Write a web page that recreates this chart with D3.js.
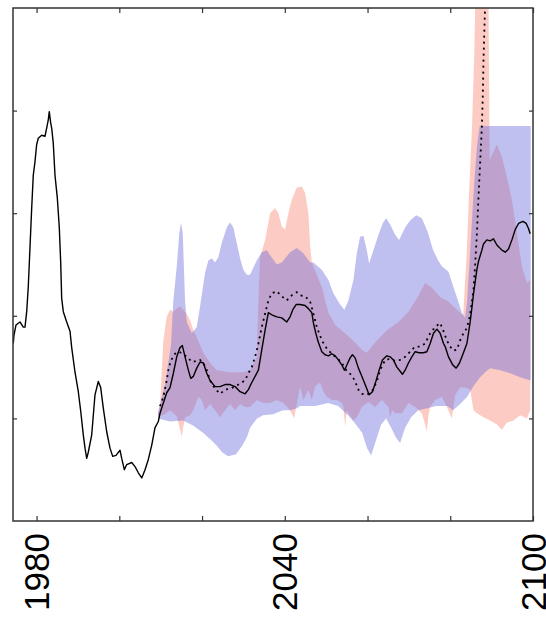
<!DOCTYPE html>
<html>
<head>
<meta charset="utf-8">
<script src="https://cdn.jsdelivr.net/npm/d3@7"></script>
<style>
  body { margin: 0; background: #fff; }
  svg { display: block; }
</style>
</head>
<body>
<div id="chart"></div>
<script>
// x ticks / labels
const xTicks = [1980, 2000, 2020, 2040, 2060, 2080, 2100];
const xLabels = [1980, 2040, 2100];
const yTicks = [1, 2, 3, 4];

// solid black line: observed record + ensemble mean, [year, value]
const meanLine = [
  [1974.37,1.73],[1974.53,1.81],[1975.02,1.91],[1975.99,1.94],[1976.78,1.89],[1977.20,1.89],[1977.61,2.04],
  [1977.99,2.28],[1978.40,2.66],[1978.82,3.05],[1979.20,3.37],[1979.61,3.50],[1980.02,3.67],[1980.41,3.73],
  [1981.23,3.76],[1982.03,3.75],[1982.44,3.83],[1982.83,3.91],[1983.07,3.99],[1983.41,3.88],[1983.65,3.83],
  [1984.04,3.68],[1984.45,3.37],[1985.01,3.15],[1985.49,2.86],[1985.83,2.52],[1986.07,2.17],[1986.46,2.04],
  [1987.28,1.94],[1988.08,1.85],[1988.49,1.69],[1989.29,1.45],[1990.09,1.26],[1990.67,1.07],[1991.29,0.84],
  [1991.71,0.71],[1992.12,0.61],[1992.50,0.67],[1993.33,0.84],[1994.12,1.23],[1994.92,1.36],[1995.50,1.30],
  [1996.13,1.10],[1996.95,0.87],[1997.75,0.71],[1998.40,0.63],[1999.20,0.64],[2000.17,0.69],[2000.58,0.61],
  [2001.21,0.50],[2001.79,0.55],[2003.00,0.57],[2003.80,0.53],[2004.60,0.47],[2005.42,0.42],[2006.22,0.50],
  [2007.01,0.60],[2007.84,0.74],[2008.63,0.91],[2009.43,0.97],[2009.84,1.05],[2010.64,1.15],[2011.46,1.25],
  [2012.26,1.30],[2013.06,1.44],[2013.88,1.60],[2014.68,1.69],[2015.24,1.71],[2015.89,1.60],[2016.69,1.47],
  [2017.27,1.39],[2017.90,1.41],[2018.72,1.49],[2019.52,1.55],[2020.32,1.54],[2021.14,1.44],[2021.94,1.37],
  [2023.14,1.31],[2024.35,1.31],[2025.56,1.33],[2026.77,1.33],[2027.98,1.31],[2029.19,1.26],[2030.40,1.24],
  [2031.20,1.28],[2032.02,1.35],[2032.82,1.41],[2033.62,1.47],[2034.44,1.67],[2035.24,1.86],[2036.03,2.03],
  [2036.86,2.01],[2038.07,1.99],[2039.28,1.98],[2040.48,1.94],[2041.28,1.99],[2041.94,2.06],[2042.73,2.11],
  [2043.70,2.11],[2044.91,2.10],[2045.71,2.07],[2046.53,2.03],[2046.92,1.93],[2047.50,1.83],[2048.13,1.74],
  [2048.95,1.65],[2049.75,1.62],[2050.54,1.61],[2051.37,1.63],[2052.17,1.61],[2052.96,1.57],[2053.79,1.52],
  [2054.41,1.47],[2055.00,1.52],[2055.79,1.59],[2056.35,1.62],[2057.00,1.59],[2057.80,1.49],[2058.62,1.41],
  [2059.42,1.33],[2060.39,1.23],[2061.19,1.26],[2062.01,1.36],[2062.81,1.47],[2063.60,1.57],[2064.67,1.61],
  [2065.47,1.60],[2066.26,1.57],[2067.09,1.50],[2067.88,1.46],[2068.44,1.43],[2069.09,1.47],[2069.89,1.54],
  [2070.71,1.60],[2071.51,1.65],[2072.48,1.64],[2073.52,1.64],[2074.34,1.65],[2075.14,1.73],[2075.94,1.83],
  [2076.76,1.87],[2077.56,1.83],[2078.36,1.73],[2078.77,1.70],[2079.57,1.60],[2080.63,1.52],[2081.43,1.49],
  [2082.23,1.54],[2083.19,1.64],[2084.02,1.73],[2084.40,1.83],[2084.81,1.94],[2085.23,2.08],[2085.61,2.21],
  [2086.02,2.33],[2086.43,2.45],[2086.82,2.53],[2087.64,2.64],[2088.03,2.70],[2088.85,2.74],[2089.65,2.73],
  [2090.45,2.75],[2091.27,2.69],[2092.48,2.64],[2093.28,2.62],[2094.08,2.65],[2094.90,2.74],[2095.70,2.84],
  [2096.50,2.90],[2097.56,2.92],[2098.36,2.90],[2098.91,2.85],[2099.32,2.80]
];

// dotted line
const altLine = [
  [2009.84,1.12],[2010.64,1.21],[2011.46,1.37],[2011.85,1.47],[2012.43,1.56],[2013.47,1.63],[2014.51,1.65],
  [2015.48,1.62],[2016.45,1.60],[2017.51,1.55],[2018.72,1.56],[2019.52,1.57],[2020.32,1.54],[2021.14,1.47],
  [2021.94,1.37],[2023.14,1.29],[2024.35,1.24],[2025.56,1.28],[2026.77,1.29],[2027.98,1.31],[2029.19,1.34],
  [2030.40,1.37],[2031.20,1.44],[2032.02,1.50],[2032.82,1.60],[2033.62,1.73],[2034.44,1.89],[2035.24,2.02],
  [2036.03,2.15],[2036.86,2.22],[2038.07,2.24],[2039.28,2.19],[2040.48,2.15],[2041.69,2.20],[2042.90,2.23],
  [2043.70,2.20],[2044.91,2.19],[2046.12,2.14],[2046.92,2.02],[2047.74,1.89],[2048.95,1.76],[2050.16,1.68],
  [2051.37,1.63],[2052.58,1.59],[2053.79,1.54],[2055.00,1.46],[2056.20,1.42],[2057.00,1.36],[2057.80,1.28],
  [2058.62,1.24],[2059.83,1.23],[2061.04,1.26],[2062.25,1.36],[2063.05,1.47],[2064.26,1.57],[2065.47,1.58],
  [2066.68,1.56],[2067.88,1.57],[2069.09,1.60],[2070.30,1.65],[2071.51,1.70],[2072.72,1.70],[2073.93,1.73],
  [2075.14,1.83],[2076.35,1.89],[2077.56,1.93],[2078.36,1.85],[2079.18,1.76],[2079.98,1.70],[2080.77,1.66],
  [2081.60,1.67],[2082.39,1.76],[2083.19,1.83],[2084.02,1.88],[2084.81,2.01],[2085.61,2.25],[2086.02,2.50],
  [2086.43,2.79],[2086.82,3.15],[2087.23,3.50],[2087.64,3.84],[2087.88,4.17],[2088.03,4.49],[2088.27,4.82],
  [2088.44,5.03],[2088.59,5.27]
];

// salmon range
const pinkUpper = [
  [2009.36,1.04],[2009.84,1.13],[2010.64,1.76],[2011.46,1.99],[2012.26,2.06],[2013.06,2.04],[2013.88,2.07],
  [2014.68,2.09],[2016.30,2.02],[2017.10,1.96],[2017.90,1.86],[2018.72,1.79],[2020.32,1.64],[2021.94,1.54],
  [2023.56,1.47],[2026.77,1.45],[2029.99,1.45],[2031.61,1.47],[2033.23,1.60],[2033.62,2.15],[2034.03,2.57],
  [2035.24,2.74],[2036.45,3.00],[2037.65,3.05],[2038.45,3.00],[2039.28,2.87],[2040.07,2.84],[2040.87,3.00],
  [2041.69,3.13],[2042.90,3.25],[2044.11,3.26],[2044.91,3.20],[2045.71,3.00],[2046.12,2.69],[2046.53,2.52],
  [2048.95,2.28],[2050.54,2.03],[2052.17,1.91],[2054.58,1.83],[2057.00,1.74],[2058.62,1.67],[2059.83,1.64],
  [2062.25,1.76],[2064.67,1.86],[2067.47,1.94],[2069.89,2.04],[2072.24,2.19],[2073.93,2.32],[2075.62,2.27],
  [2077.56,2.18],[2079.57,2.14],[2080.77,2.09],[2081.60,2.06],[2082.39,2.03],[2083.12,2.00],[2084.02,2.64],
  [2084.57,3.23],[2085.23,3.81],[2085.78,4.52],[2086.26,5.47],[2089.17,5.47],[2089.53,3.52],[2091.27,3.67],
  [2092.48,3.55],[2093.69,3.35],[2094.90,3.13],[2096.11,2.81],[2097.32,2.48],[2098.53,2.32],[2099.32,2.35]
];
const pinkLower = [
  [2009.36,1.02],[2011.05,1.04],[2012.26,1.08],[2013.88,1.02],[2014.27,0.96],[2015.09,0.82],[2015.48,0.92],
  [2015.89,1.01],[2017.10,1.03],[2017.90,1.08],[2019.11,1.21],[2019.93,1.18],[2020.73,1.08],[2021.94,1.14],
  [2023.14,1.08],[2024.35,1.01],[2025.56,1.08],[2026.77,1.14],[2027.98,1.08],[2029.19,1.14],[2030.40,1.11],
  [2031.61,1.11],[2033.23,1.18],[2034.83,1.15],[2036.45,1.15],[2038.07,1.18],[2039.66,1.15],[2041.28,1.08],
  [2042.25,1.00],[2042.98,1.16],[2043.70,1.31],[2044.50,1.18],[2045.71,1.28],[2046.53,1.18],[2047.33,1.31],
  [2048.54,1.35],[2049.34,1.26],[2050.16,1.21],[2051.37,1.18],[2052.58,1.18],[2053.79,1.15],[2054.17,1.11],
  [2054.58,0.92],[2055.00,1.08],[2055.38,1.05],[2056.59,0.98],[2057.41,1.01],[2058.62,1.11],[2060.22,1.16],
  [2061.84,1.11],[2063.46,1.18],[2065.06,1.11],[2065.47,1.01],[2065.95,1.08],[2066.68,1.05],[2068.30,1.05],
  [2069.89,1.15],[2071.51,1.11],[2073.13,1.05],[2073.93,0.94],[2074.34,0.87],[2074.73,1.03],[2075.14,1.11],
  [2076.35,1.18],[2077.97,1.21],[2079.18,1.11],[2080.39,1.00],[2081.19,1.23],[2082.39,1.30],[2083.60,1.30],
  [2084.81,1.28],[2085.61,1.08],[2086.43,1.05],[2088.03,1.01],[2089.65,0.98],[2091.27,0.94],[2092.48,0.89],
  [2093.69,0.96],[2095.29,0.98],[2096.91,1.03],[2098.53,1.00],[2099.32,1.08]
];

// blue range
const blueUpper = [
  [2009.36,1.06],[2011.05,1.33],[2012.50,1.72],[2013.06,2.15],[2013.88,2.48],[2014.51,2.81],[2014.92,2.91],
  [2015.33,2.81],[2015.89,2.15],[2016.30,1.94],[2017.51,1.83],[2018.72,1.89],[2019.52,2.09],[2020.73,2.42],
  [2021.52,2.54],[2022.35,2.56],[2023.14,2.52],[2023.94,2.57],[2024.76,2.71],[2025.97,2.86],[2026.77,2.91],
  [2027.57,2.86],[2028.39,2.71],[2029.19,2.56],[2029.99,2.45],[2030.81,2.40],[2031.61,2.40],[2032.41,2.47],
  [2033.23,2.54],[2034.44,2.62],[2035.65,2.64],[2036.45,2.59],[2038.07,2.50],[2039.28,2.52],[2041.28,2.62],
  [2042.90,2.66],[2044.50,2.61],[2046.12,2.52],[2046.92,2.52],[2048.95,2.45],[2050.54,2.35],[2051.75,2.22],
  [2053.37,2.11],[2054.41,2.06],[2055.38,2.15],[2056.59,2.35],[2057.41,2.61],[2058.21,2.77],[2059.01,2.78],
  [2059.83,2.64],[2060.39,2.51],[2061.43,2.64],[2062.64,2.79],[2063.77,2.91],[2064.50,2.95],[2065.47,2.89],
  [2066.68,2.79],[2067.64,2.74],[2069.09,2.86],[2070.30,2.93],[2071.75,2.98],[2073.13,2.95],[2074.53,2.82],
  [2075.87,2.64],[2077.07,2.54],[2078.04,2.48],[2079.57,2.43],[2080.77,2.28],[2081.60,2.18],[2082.81,2.03],
  [2083.60,1.98],[2084.09,2.15],[2084.57,2.47],[2085.05,2.79],[2085.54,3.13],[2086.02,3.42],[2086.51,3.67],
  [2087.11,3.85],[2099.45,3.85]
];
const blueLower = [
  [2009.36,1.00],[2012.26,0.97],[2015.41,0.98],[2017.82,0.93],[2020.24,0.86],[2022.18,0.79],[2023.63,0.73],
  [2024.84,0.67],[2026.29,0.63],[2028.22,0.65],[2029.67,0.73],[2030.88,0.82],[2031.61,0.91],[2033.30,1.00],
  [2034.75,1.03],[2037.17,1.04],[2039.59,1.08],[2041.28,1.08],[2042.98,1.10],[2043.70,1.12],[2047.33,1.12],
  [2050.47,1.15],[2052.89,1.12],[2055.31,1.03],[2057.00,0.95],[2058.69,0.86],[2059.90,0.71],[2060.87,0.64],
  [2062.08,0.79],[2063.29,0.94],[2064.50,1.00],[2065.71,0.91],[2066.92,0.81],[2067.88,0.76],[2069.09,0.91],
  [2070.54,1.01],[2072.24,1.08],[2074.41,1.10],[2076.59,1.12],[2079.25,1.12],[2080.70,1.08],[2082.39,1.14],
  [2084.09,1.21],[2085.54,1.31],[2087.23,1.40],[2088.44,1.45],[2089.65,1.49],[2092.07,1.47],[2094.49,1.44],
  [2096.91,1.40],[2099.45,1.37]
];

const W = 546, H = 617;
const plot = { left: 13, right: 533, top: 8, bottom: 521 };

const svg = d3.select("#chart").append("svg")
    .attr("width", W)
    .attr("height", H);

const x = d3.scaleLinear().domain([1974.3, 2100]).range([plot.left, plot.right]);
const y = d3.scaleLinear().domain([0, 5]).range([plot.bottom, plot.top]);

svg.append("defs").append("clipPath").attr("id", "clip")
  .append("rect")
    .attr("x", plot.left).attr("y", plot.top)
    .attr("width", plot.right - plot.left)
    .attr("height", plot.bottom - plot.top);

const g = svg.append("g").attr("clip-path", "url(#clip)");

const line = d3.line().x(d => x(d[0])).y(d => y(d[1]));
const band = (up, lo) => line(up.concat(lo.slice().reverse())) + "Z";

g.append("path")
    .attr("d", band(pinkUpper, pinkLower))
    .attr("fill", "#f8806c")
    .attr("fill-opacity", 0.4);

g.append("path")
    .attr("d", band(blueUpper, blueLower))
    .attr("fill", "#6262da")
    .attr("fill-opacity", 0.4);

g.append("path")
    .datum(altLine)
    .attr("d", line)
    .attr("fill", "none")
    .attr("stroke", "#000")
    .attr("stroke-width", 1.8)
    .attr("stroke-dasharray", "2,4");

g.append("path")
    .datum(meanLine)
    .attr("d", line)
    .attr("fill", "none")
    .attr("stroke", "#000")
    .attr("stroke-width", 1.4)
    .attr("stroke-linejoin", "round");

// frame + inward ticks
const axisColor = "#333";

const bottomAxis = svg.append("g")
    .attr("transform", `translate(0,${plot.bottom})`)
    .call(d3.axisBottom(x).tickValues(xTicks).tickSizeInner(-5).tickSizeOuter(0)
      .tickFormat(d => xLabels.includes(d) ? d : ""));

bottomAxis.selectAll("text")
    .attr("y", null)
    .attr("dy", null)
    .attr("transform", "translate(12,12) rotate(-90)")
    .style("text-anchor", "end")
    .style("font-family", "'Liberation Sans', Arial, sans-serif")
    .style("font-size", "35px")
    .attr("fill", "#000");

svg.append("g")
    .attr("transform", `translate(0,${plot.top})`)
    .call(d3.axisTop(x).tickValues(xTicks).tickSizeInner(-5).tickSizeOuter(0).tickFormat(""));

svg.append("g")
    .attr("transform", `translate(${plot.left},0)`)
    .call(d3.axisLeft(y).tickValues(yTicks).tickSizeInner(-4).tickSizeOuter(0).tickFormat(""));

svg.append("g")
    .attr("transform", `translate(${plot.right},0)`)
    .call(d3.axisRight(y).tickValues(yTicks).tickSizeInner(-4).tickSizeOuter(0).tickFormat(""));

svg.selectAll(".domain").remove();
svg.selectAll(".tick line").attr("stroke", axisColor).attr("stroke-width", 1.2);

svg.append("rect")
    .attr("x", plot.left)
    .attr("y", plot.top)
    .attr("width", plot.right - plot.left)
    .attr("height", plot.bottom - plot.top)
    .attr("fill", "none")
    .attr("stroke", axisColor)
    .attr("stroke-width", 1.5);
</script>
</body>
</html>
